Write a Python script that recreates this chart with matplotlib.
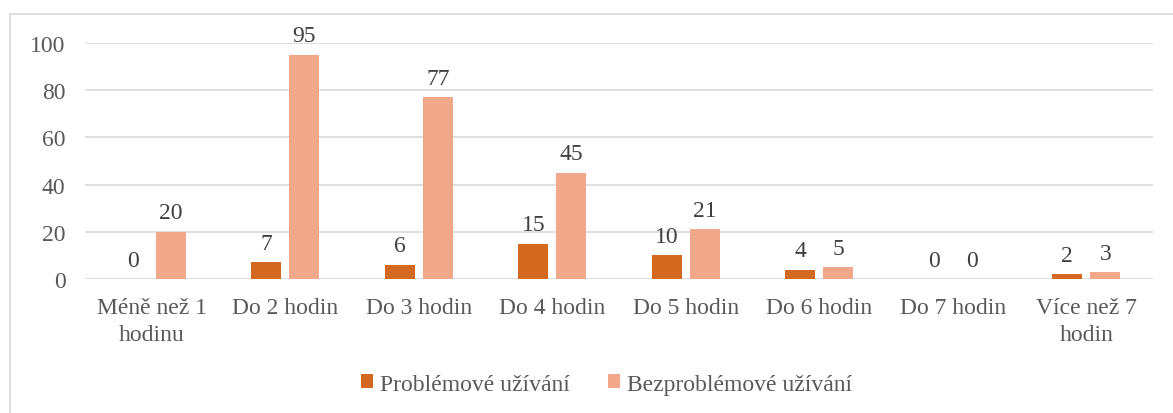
import numpy as np
import matplotlib.pyplot as plt
from matplotlib.lines import Line2D

categories = ["Méně než 1\nhodinu", "Do 2 hodin", "Do 3 hodin", "Do 4 hodin",
              "Do 5 hodin", "Do 6 hodin", "Do 7 hodin", "Více než 7\nhodin"]
problemove = [0, 7, 6, 15, 10, 4, 0, 2]
bezproblemove = [20, 95, 77, 45, 21, 5, 0, 3]
series_names = ["Problémové užívání", "Bezproblémové užívání"]

dark = "#D2691F"
light = "#F1A88A"
text_col = "#595959"

plt.rcParams['font.family'] = ['Liberation Serif', 'DejaVu Serif']

fig = plt.figure(figsize=(11.73, 4.14), dpi=100)
ax = fig.add_axes([0.0725, 0.3237, 0.9105, 0.57])

x = np.arange(len(categories))
w = 0.225
off = 0.142
b1 = ax.bar(x - off, problemove, w, color=dark, label=series_names[0], zorder=3)
b2 = ax.bar(x + off, bezproblemove, w, color=light, label=series_names[1], zorder=3)

for bars in (b1, b2):
    for r in bars:
        ax.annotate(f"{int(r.get_height())}", (r.get_x() + r.get_width() / 2, r.get_height()),
                    xytext=(0, 6), textcoords="offset points", ha="center", va="bottom",
                    fontsize=17, color="#404040")

ax.set_ylim(0, 100)
ax.set_xlim(-0.5, len(categories) - 0.5)
ax.set_yticks(range(0, 101, 20))
ax.yaxis.grid(True, color="#D9D9D9", linewidth=1.2, zorder=0)
ax.set_axisbelow(True)
for s in ax.spines.values():
    s.set_visible(False)
ax.tick_params(axis="both", length=0, labelsize=17, colors=text_col)
ax.tick_params(axis="y", pad=14)
ax.set_xticks(x)
ax.set_xticklabels(categories, linespacing=1.4)
ax.tick_params(axis="x", pad=13)

fig.legend(handles=[b1, b2], labels=series_names, loc="center", bbox_to_anchor=(0.517, 0.07),
           ncol=2, frameon=False, fontsize=17, labelcolor=text_col,
           handlelength=0.5, handleheight=0.5, handletextpad=0.3, columnspacing=1.6)

# chart frame edges
fig.add_artist(Line2D([10 / 1173, 10 / 1173], [0, 1 - 15 / 414], transform=fig.transFigure,
                      color="#D9D9D9", linewidth=1.2))
fig.add_artist(Line2D([10 / 1173, 1], [1 - 15 / 414, 1 - 15 / 414], transform=fig.transFigure,
                      color="#D9D9D9", linewidth=1.2))

fig.savefig("out.png", dpi=100)
